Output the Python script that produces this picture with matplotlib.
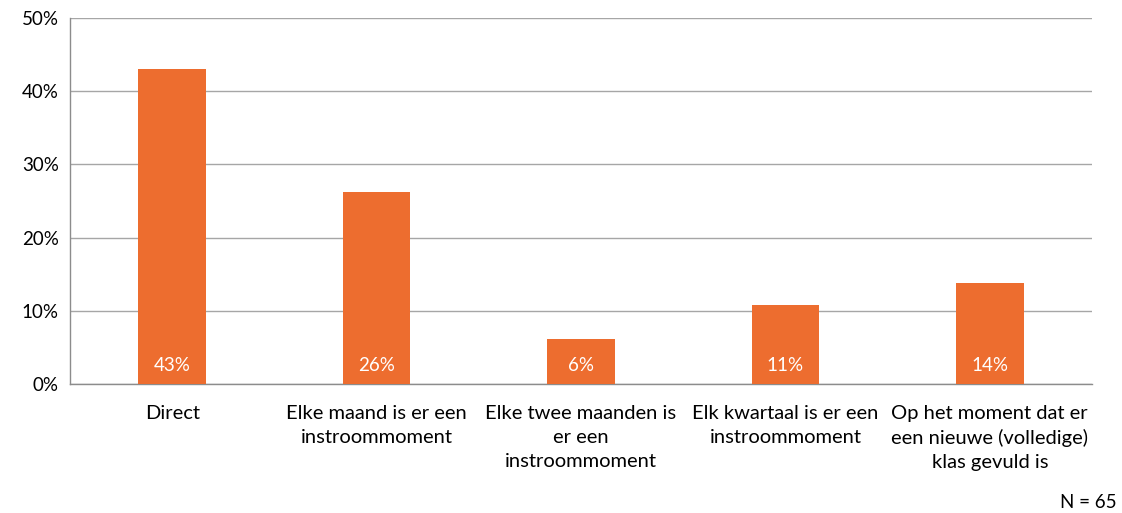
import matplotlib
matplotlib.use("Agg")
import matplotlib.pyplot as plt

categories = [
    "Direct",
    "Elke maand is er een\ninstroommoment",
    "Elke twee maanden is\ner een\ninstroommoment",
    "Elk kwartaal is er een\ninstroommoment",
    "Op het moment dat er\neen nieuwe (volledige)\nklas gevuld is",
]
values = [43.1, 26.2, 6.2, 10.8, 13.8]
yticks = [0, 10, 20, 30, 40, 50]
note = "N = 65"

plt.rcParams["font.family"] = ["Lato", "DejaVu Sans"]

fig = plt.figure(figsize=(11.22, 5.13), dpi=100)
ax = fig.add_axes([70 / 1122, (513 - 384) / 513, 1022 / 1122, 366 / 513])

bar_color = "#ED6D2F"
x = list(range(len(categories)))
bars = ax.bar(x, values, width=0.33, color=bar_color, zorder=3)

for xi, v in zip(x, values):
    ax.text(xi, 2.5, f"{v:.0f}%", ha="center", va="center",
            color="white", fontsize=13.5, zorder=4)

ax.set_xlim(-0.5, len(categories) - 0.5)
ax.set_ylim(0, 50)
ax.set_yticks(yticks)
ax.set_yticklabels([f"{t}%" for t in yticks], fontsize=13.5)
ax.yaxis.grid(True, color="#a6a6a6", linewidth=1, zorder=0)
ax.set_axisbelow(True)

ax.set_xticks(x)
ax.set_xticklabels(categories, fontsize=14.5, linespacing=1.5, va="top")
ax.tick_params(axis="x", length=0, pad=15)
ax.tick_params(axis="y", length=0, pad=8)

for side in ["top", "right"]:
    ax.spines[side].set_visible(False)
for side in ["left", "bottom"]:
    ax.spines[side].set_color("#8c8c8c")
    ax.spines[side].set_linewidth(1)

fig.text(1117 / 1122, 1 - 503 / 513, note, ha="right", va="center", fontsize=13.5)

fig.savefig("out.png", dpi=100)
